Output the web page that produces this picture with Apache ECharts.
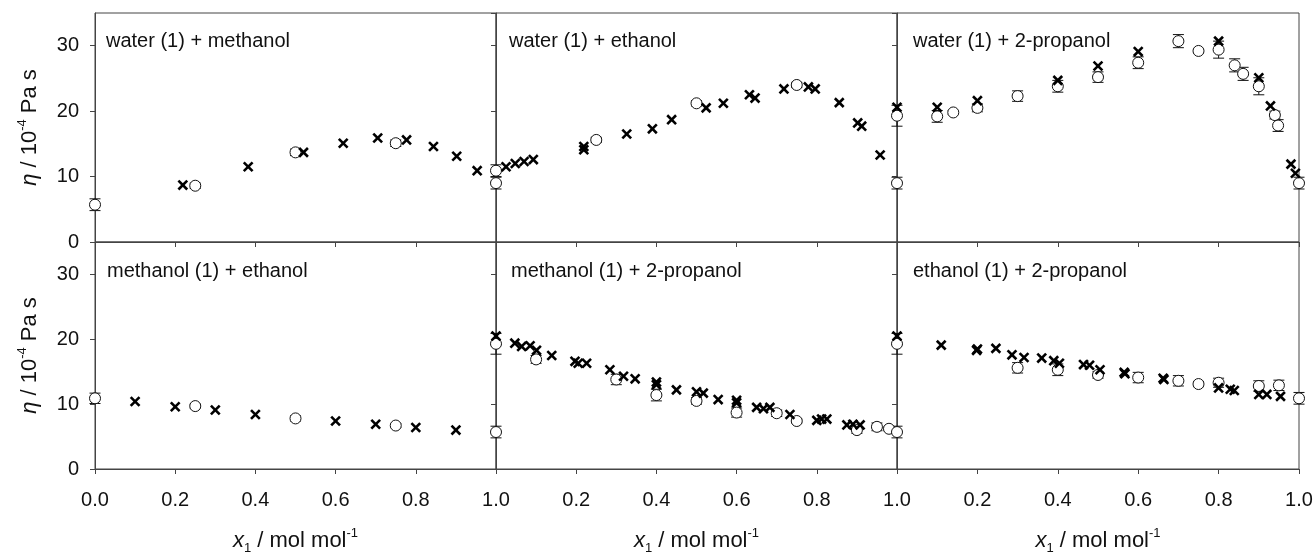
<!DOCTYPE html>
<html>
<head>
<meta charset="utf-8">
<script src="https://cdn.jsdelivr.net/npm/echarts@6/dist/echarts.min.js"></script>
<style>html,body{margin:0;padding:0;background:#fff}#c{width:1316px;height:556px}</style>
</head>
<body>
<div id="c"></div>
<script>
// ---------- data ----------
const panelTitles = ['water (1) + methanol', 'water (1) + ethanol', 'water (1) + 2-propanol',
                     'methanol (1) + ethanol', 'methanol (1) + 2-propanol', 'ethanol (1) + 2-propanol'];
const yTickValues = [0, 10, 20, 30];
const xTickValues = [0, 0.2, 0.4, 0.6, 0.8, 1.0];

// crosses: [x1, eta]
const wmCross = [[0.219,8.7],[0.382,11.5],[0.52,13.7],[0.619,15.1],[0.705,15.9],[0.777,15.6],[0.844,14.6],[0.902,13.1],[0.953,10.9]];
// circles: [x1, eta, uncertainty]
const wmCirc  = [[0,5.7,0.9],[0.25,8.6,0.4],[0.5,13.7,0.5],[0.75,15.1,0.5],[1,9.0,0.9]];

const weCross = [[0.025,11.5],[0.048,12.0],[0.07,12.3],[0.093,12.6],[0.219,14.6],[0.219,14.1],[0.326,16.5],[0.39,17.3],[0.438,18.7],
                 [0.524,20.5],[0.567,21.2],[0.632,22.5],[0.646,22.0],[0.718,23.4],[0.779,23.7],[0.796,23.4],[0.856,21.3],
                 [0.902,18.2],[0.912,17.7],[0.958,13.3]];
const weCirc  = [[0,10.9,0.9],[0.25,15.6,0.4],[0.5,21.2,0.4],[0.75,24.0,0.4],[1,9.0,0.9]];

const wpCross = [[0,20.6],[0.1,20.6],[0.2,21.6],[0.4,24.7],[0.5,26.9],[0.6,29.1],[0.8,30.7],[0.9,25.1],[0.929,20.8],[0.98,11.9],[0.991,10.5]];
const wpCirc  = [[0,19.3,1.6],[0.1,19.2,0.9],[0.14,19.8,0.3],[0.2,20.5,0.6],[0.3,22.3,0.8],[0.4,23.8,0.9],[0.5,25.2,0.8],
                 [0.6,27.4,0.9],[0.7,30.7,1.0],[0.75,29.2,0.3],[0.8,29.4,1.3],[0.84,27.0,1.0],[0.861,25.7,1.0],[0.9,23.8,1.3],
                 [0.94,19.4,0.6],[0.948,17.8,0.9],[1,9.0,0.9]];

const meCross = [[0.1,10.4],[0.2,9.6],[0.3,9.1],[0.4,8.4],[0.6,7.4],[0.7,6.9],[0.8,6.4],[0.9,6.0]];
const meCirc  = [[0,10.9,0.8],[0.25,9.7,0.3],[0.5,7.8,0.4],[0.75,6.7,0.3],[1,5.7,0.9]];

const mpCross = [[0,20.5],[0.047,19.4],[0.064,18.9],[0.085,19.0],[0.101,18.3],[0.139,17.5],[0.197,16.6],[0.205,16.3],[0.226,16.3],
                 [0.284,15.3],[0.318,14.3],[0.347,13.9],[0.4,13.4],[0.4,13.0],[0.45,12.2],[0.5,11.9],[0.517,11.7],[0.554,10.7],
                 [0.6,10.6],[0.6,10.2],[0.65,9.5],[0.667,9.3],[0.683,9.5],[0.733,8.4],[0.8,7.5],[0.812,7.7],[0.825,7.7],
                 [0.875,6.8],[0.89,6.9],[0.908,6.8]];
const mpCirc  = [[0,19.3,1.6],[0.1,16.9,0.6],[0.3,13.8,0.8],[0.4,11.4,0.9],[0.5,10.5,0.5],[0.6,8.7,0.7],[0.7,8.6,0.5],
                 [0.75,7.4,0.3],[0.9,6.0,0.5],[0.95,6.5,0.6],[0.98,6.2,0.3],[1,5.7,0.9]];

const epCross = [[0,20.5],[0.11,19.1],[0.198,18.3],[0.2,18.5],[0.246,18.6],[0.286,17.6],[0.316,17.2],[0.36,17.1],[0.39,16.7],
                 [0.404,16.3],[0.464,16.1],[0.479,16.0],[0.505,15.3],[0.565,14.9],[0.567,14.7],[0.662,14.0],[0.664,13.8],
                 [0.8,12.5],[0.829,12.3],[0.839,12.1],[0.9,11.5],[0.92,11.5],[0.954,11.2]];
const epCirc  = [[0,19.3,1.6],[0.3,15.6,0.8],[0.4,15.3,0.9],[0.5,14.5,0.5],[0.6,14.1,0.8],[0.7,13.6,0.8],[0.75,13.1,0.4],
                 [0.8,13.3,0.7],[0.9,12.8,0.8],[0.95,12.9,0.8],[1,10.9,0.9]];

const crossSets  = [wmCross, weCross, wpCross, meCross, mpCross, epCross];
const circleSets = [wmCirc, weCirc, wpCirc, meCirc, mpCirc, epCirc];

// ---------- layout ----------
const FONT = 'Liberation Sans, Arial, sans-serif';
const FS = 20;
const NFS = 22;
const colLeft = [95, 496, 897];
const colWidth = [401, 401, 402];
const rowTop = [13, 242];
const rowHeight = [229, 230];
const titlePos = [[106, 31], [509, 31], [913, 31], [107, 261], [511, 261], [913, 261]];
const lineCol = '#444';

const grids = [], xAxes = [], yAxes = [], series = [], titles = [];
for (let i = 0; i < 6; i++) {
  const r = Math.floor(i / 3), c = i % 3;
  grids.push({left: colLeft[c], top: rowTop[r], width: colWidth[c], height: rowHeight[r],
              show: true, borderColor: lineCol, borderWidth: 1, backgroundColor: 'transparent', containLabel: false});
  xAxes.push({
    gridIndex: i, type: 'value', min: 0, max: 1, interval: 0.2,
    axisLine: {show: true, onZero: false, lineStyle: {color: lineCol, width: 1}},
    axisTick: {show: true, inside: false, length: 5, lineStyle: {color: lineCol, width: 1}},
    splitLine: {show: false},
    axisLabel: {show: r === 1, showMinLabel: c === 0, showMaxLabel: true, fontSize: FS, fontFamily: FONT, color: '#111',
                margin: 21, formatter: v => v.toFixed(1)},
    name: r === 1 ? '{i|x}{sub|1}{n| / mol mol}{sup|-1}' : '',
    nameLocation: 'middle', nameGap: 58,
    nameTextStyle: {fontSize: NFS, fontFamily: FONT, color: '#111', lineHeight: 28,
      rich: {
        i: {fontSize: NFS, fontFamily: FONT, fontStyle: 'italic', color: '#111', verticalAlign: 'middle'},
        n: {fontSize: NFS, fontFamily: FONT, color: '#111', verticalAlign: 'middle'},
        sub: {fontSize: 13, fontFamily: FONT, color: '#111', verticalAlign: 'bottom', lineHeight: 21},
        sup: {fontSize: 13, fontFamily: FONT, color: '#111', verticalAlign: 'top', lineHeight: 21}
      }}
  });
  yAxes.push({
    gridIndex: i, type: 'value', min: 0, max: 35, interval: 10,
    axisLine: {show: true, lineStyle: {color: lineCol, width: 1}},
    axisTick: {show: true, inside: false, length: 5, lineStyle: {color: lineCol, width: 1}},
    splitLine: {show: false},
    axisLabel: {show: c === 0, showMaxLabel: false, fontSize: FS, fontFamily: FONT, color: '#111', margin: 16},
    name: c === 0 ? '{i|η}{n| / 10}{sup|-4}{n| Pa s}' : '',
    nameLocation: 'middle', nameGap: 51, nameRotate: 90,
    nameTextStyle: {fontSize: NFS, fontFamily: FONT, color: '#111', lineHeight: 28,
      rich: {
        i: {fontSize: NFS, fontFamily: FONT, fontStyle: 'italic', color: '#111', verticalAlign: 'middle'},
        n: {fontSize: NFS, fontFamily: FONT, color: '#111', verticalAlign: 'middle'},
        sup: {fontSize: 13, fontFamily: FONT, color: '#111', verticalAlign: 'top', lineHeight: 21}
      }}
  });
  titles.push({text: panelTitles[i], left: titlePos[i][0], top: titlePos[i][1], padding: 0,
               textStyle: {fontSize: FS, fontWeight: 'normal', fontFamily: FONT, color: '#111'}});

  // error bars (behind circles)
  series.push({
    type: 'custom', xAxisIndex: i, yAxisIndex: i, data: circleSets[i], clip: false, z: 2, silent: true,
    renderItem: function (params, api) {
      const x = api.value(0), y = api.value(1), e = api.value(2);
      const lo = api.coord([x, y - e]), hi = api.coord([x, y + e]);
      const w = 5.5;
      const st = {stroke: '#111', lineWidth: 1};
      return {type: 'group', children: [
        {type: 'line', shape: {x1: lo[0], y1: lo[1], x2: hi[0], y2: hi[1]}, style: st},
        {type: 'line', shape: {x1: lo[0] - w, y1: lo[1], x2: lo[0] + w, y2: lo[1]}, style: st},
        {type: 'line', shape: {x1: hi[0] - w, y1: hi[1], x2: hi[0] + w, y2: hi[1]}, style: st}
      ]};
    }
  });
  // open circles
  series.push({
    type: 'scatter', xAxisIndex: i, yAxisIndex: i, data: circleSets[i].map(d => [d[0], d[1]]), clip: false, z: 3,
    symbol: 'circle', symbolSize: 11, silent: true,
    itemStyle: {color: '#fff', borderColor: '#111', borderWidth: 1, opacity: 1}
  });
  // crosses
  series.push({
    type: 'custom', xAxisIndex: i, yAxisIndex: i, data: crossSets[i], clip: false, z: 4, silent: true,
    renderItem: function (params, api) {
      const p = api.coord([api.value(0), api.value(1)]);
      const s = 4.4;
      const st = {stroke: '#000', lineWidth: 2.6};
      return {type: 'group', children: [
        {type: 'line', shape: {x1: p[0] - s, y1: p[1] - s, x2: p[0] + s, y2: p[1] + s}, style: st},
        {type: 'line', shape: {x1: p[0] - s, y1: p[1] + s, x2: p[0] + s, y2: p[1] - s}, style: st}
      ]};
    }
  });
}

const chart = echarts.init(document.getElementById('c'), null, {renderer: 'canvas'});
chart.setOption({
  animation: false,
  backgroundColor: '#fff',
  title: titles,
  grid: grids,
  xAxis: xAxes,
  yAxis: yAxes,
  series: series
});
</script>
</body>
</html>
